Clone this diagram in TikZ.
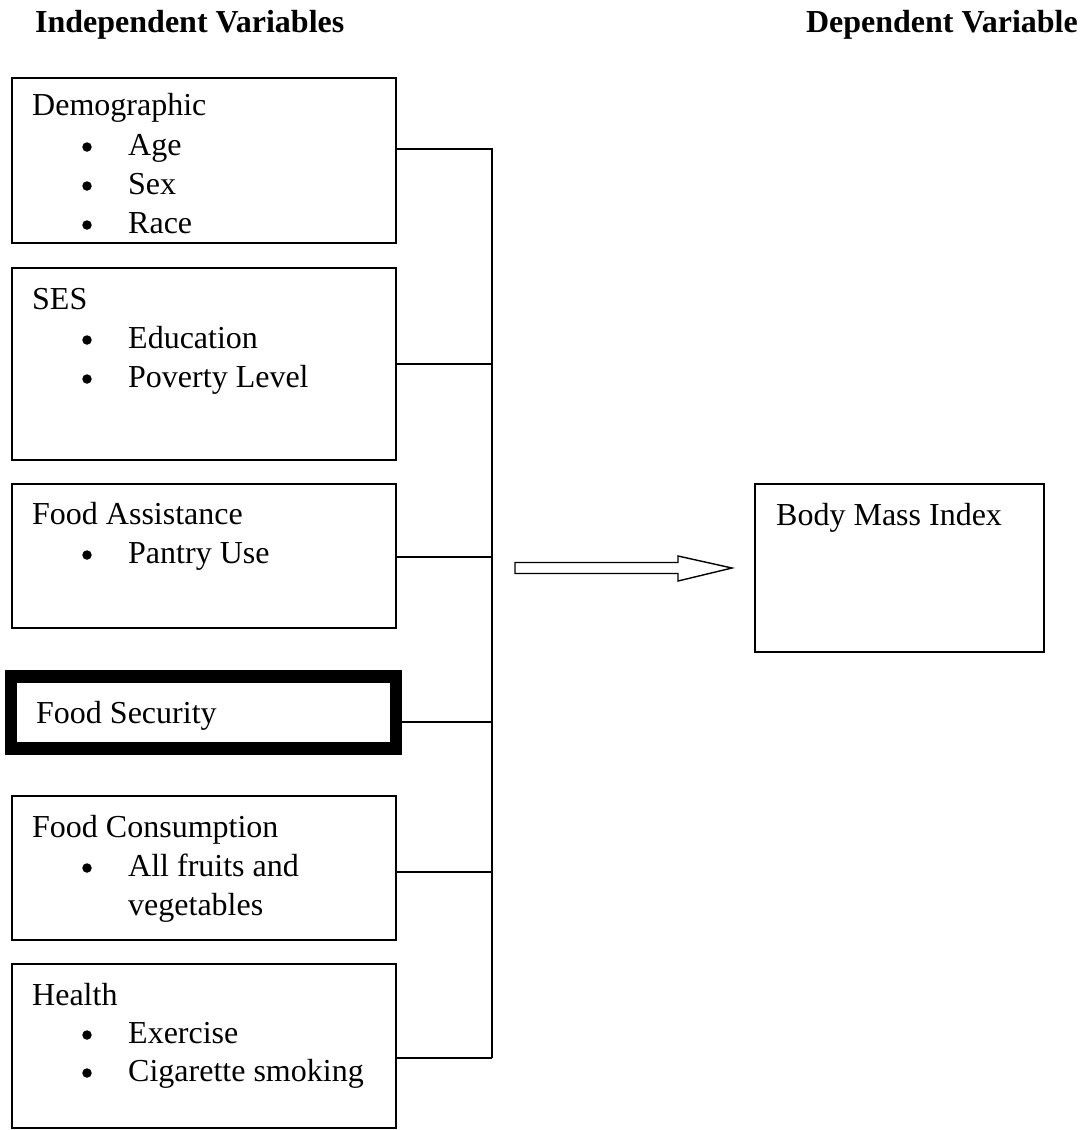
\documentclass[tikz,border=0pt]{standalone}
\usepackage{fontspec}
\setmainfont{Liberation Serif}
\begin{document}
\begin{tikzpicture}[x=1pt,y=1pt,
  box/.style={draw, line width=1.4pt, anchor=north west, inner sep=0pt, outer sep=0pt},
  thickbox/.style={draw, line width=12.5pt, anchor=north west, inner sep=0pt, outer sep=0pt},
  txt/.style={anchor=base west, inner sep=0pt, font=\fontsize{32}{38}\selectfont},
  head/.style={inner sep=0pt, font=\fontsize{32}{38}\selectfont\bfseries},
  bul/.style={circle, fill, inner sep=0pt, minimum size=9.5pt},
  conn/.style={line width=1.4pt},
  blockarrow/.style={draw, line width=1.4pt, fill=white, line join=miter}]
\useasboundingbox (0,0) rectangle (1090,-1130);

% headings
\node[head, anchor=base west] (hind) at (35,-32) {Independent Variables};
\node[head, anchor=base east] (hdep) at (1078,-32) {Dependent Variable};

% boxes
\node[box, minimum width=384pt, minimum height=165pt] (demo) at (12,-78) {};
\node[box, minimum width=384pt, minimum height=192pt] (ses) at (12,-268) {};
\node[box, minimum width=384pt, minimum height=144pt] (fa) at (12,-484) {};
\node[thickbox, minimum width=385pt, minimum height=72pt] (fs) at (11,-676.5) {};
\node[box, minimum width=384pt, minimum height=144pt] (fc) at (12,-796) {};
\node[box, minimum width=384pt, minimum height=164pt] (hl) at (12,-964) {};
\node[box, minimum width=289pt, minimum height=168pt] (bmi) at (755,-484) {};

% texts
\node[txt] (tdemo) at (32,-115) {Demographic};
\node[txt] (tage) at (128,-155) {Age};
\node[txt] (tsex) at (128,-194) {Sex};
\node[txt] (trace) at (128,-233) {Race};
\node[bul] (b1) at (87,-147) {};
\node[bul] (b2) at (87,-186) {};
\node[bul] (b3) at (87,-225) {};

\node[txt] (tses) at (32,-309) {SES};
\node[txt] (tedu) at (128,-348) {Education};
\node[txt] (tpov) at (128,-387) {Poverty Level};
\node[bul] (b4) at (87,-340) {};
\node[bul] (b5) at (87,-379) {};

\node[txt] (tfa) at (32,-524) {Food Assistance};
\node[txt] (tpan) at (128,-563) {Pantry Use};
\node[bul] (b6) at (87,-555) {};

\node[txt] (tfs) at (36,-723) {Food Security};

\node[txt] (tfc) at (32,-837) {Food Consumption};
\node[txt] (tall) at (128,-876) {All fruits and};
\node[txt] (tveg) at (128,-915) {vegetables};
\node[bul] (b7) at (87,-868) {};

\node[txt] (thl) at (32,-1005) {Health};
\node[txt] (tex) at (128,-1043) {Exercise};
\node[txt] (tcig) at (128,-1081) {Cigarette smoking};
\node[bul] (b8) at (87,-1035) {};
\node[bul] (b9) at (87,-1073) {};

\node[txt] (tbmi) at (776,-525) {Body Mass Index};

% bus connectors
\coordinate (j1) at (492,-149);
\coordinate (j2) at (492,-364);
\coordinate (j3) at (492,-557);
\coordinate (j4) at (492,-722);
\coordinate (j5) at (492,-872);
\coordinate (j6) at (492,-1058);
\draw[conn] (demo.east |- j1) -- (j1) -- (j6);
\draw[conn] (ses.east |- j2) -- (j2);
\draw[conn] (fa.east |- j3) -- (j3);
\draw[conn] ([xshift=6.25pt]fs.east |- j4) -- (j4);
\draw[conn] (fc.east |- j5) -- (j5);
\draw[conn] (hl.east |- j6) -- (j6);

% block arrow
\coordinate (a0) at (515,-568);
\coordinate (atip) at (732,-568);
\draw[blockarrow] (515,-562.5) -- (678,-562.5) -- (678,-556) -- (atip) -- (678,-581) -- (678,-573.5) -- (515,-573.5) -- cycle;
\end{tikzpicture}
\end{document}
